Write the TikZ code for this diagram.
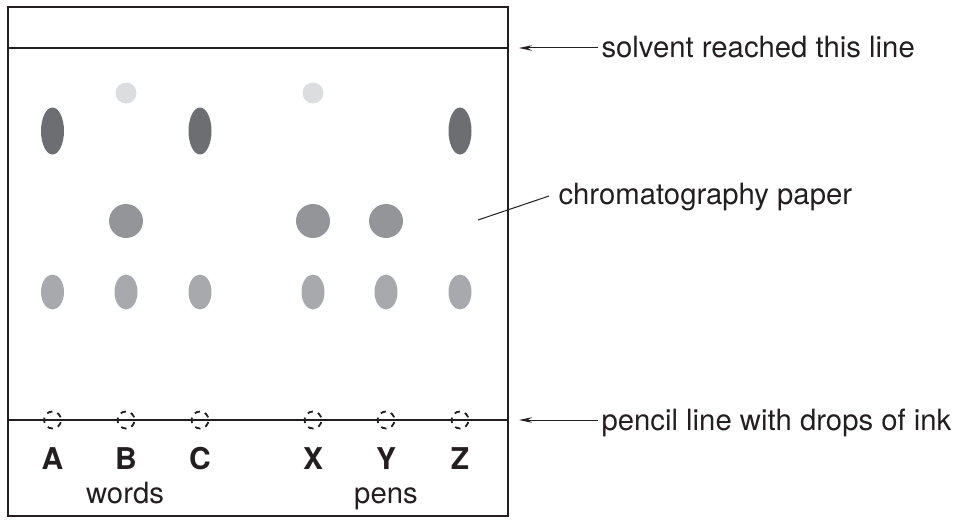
\documentclass[tikz,border=0pt]{standalone}
\usepackage{fontspec}
\setmainfont{TeX Gyre Heros}
\usetikzlibrary{positioning,arrows.meta,shapes.geometric}

\definecolor{inkline}{HTML}{231F20}
\definecolor{spotdark}{HTML}{6D6E71}
\definecolor{spotmid}{HTML}{939598}
\definecolor{spotpale}{HTML}{A7A9AC}
\definecolor{spotfaint}{HTML}{DCDDDF}

\begin{document}
\begin{tikzpicture}[
  x=1pt, y=-1pt,
  every node/.style={font=\fontsize{29.3}{34}\selectfont, text=inkline},
  longspot/.style={ellipse, fill=spotdark, inner sep=0pt, minimum width=23pt, minimum height=47pt},
  bigspot/.style={circle, fill=spotmid, inner sep=0pt, minimum size=34pt},
  lowspot/.style={ellipse, fill=spotpale, inner sep=0pt, minimum width=23pt, minimum height=35pt},
  topspot/.style={circle, fill=spotfaint, inner sep=0pt, minimum size=21pt},
  drop/.style={circle, draw=inkline, line width=1.8pt, dash pattern=on 5.5pt off 5.2pt, dash phase=8pt, inner sep=0pt, minimum size=17pt},
  letter/.style={anchor=base, font=\fontsize{30}{34}\selectfont\bfseries},
  note/.style={anchor=base west},
  arr/.style={-{Stealth[length=13pt, width=5.5pt]}, line width=1pt, draw=inkline}
]
\useasboundingbox (0,0) rectangle (957,519);

% Paper, solvent front and pencil line
\draw[inkline, line width=2.2pt] (8,7) rectangle (508,516);
\draw[inkline, line width=2.2pt] (8,48) -- (508,48);
\draw[inkline, line width=2.2pt] (8,420) -- (508,420);

% Faint spots near the top
\node[topspot] (b1) at (126,93) {};
\node[topspot] (x1) at (313,93) {};

% Dark long spots
\node[longspot] (a1) at (52.5,131) {};
\node[longspot] (c1) at (200,131) {};
\node[longspot] (z1) at (460,131) {};

% Round middle spots
\node[bigspot] (b2) at (126,221) {};
\node[bigspot] (x2) at (313,221) {};
\node[bigspot] (y2) at (386,221) {};

% Pale low spots
\node[lowspot] (a2) at (52.5,292) {};
\node[lowspot] (b3) at (126,292) {};
\node[lowspot] (c2) at (200,292) {};
\node[lowspot] (x3) at (313,292) {};
\node[lowspot] (y3) at (386,292) {};
\node[lowspot] (z2) at (460,292) {};

% Drops of ink on the pencil line
\node[drop] (da) at (52.5,420) {};
\node[drop] (db) at (126,420) {};
\node[drop] (dc) at (200,420) {};
\node[drop] (dx) at (313,420) {};
\node[drop] (dy) at (386,420) {};
\node[drop] (dz) at (460,420) {};

% Sample letters and groups
\node[letter] (la) at (52.5,469) {A};
\node[letter] (lb) at (126,469) {B};
\node[letter] (lc) at (200,469) {C};
\node[letter] (lx) at (313,469) {X};
\node[letter] (ly) at (386,469) {Y};
\node[letter] (lz) at (460,469) {Z};
\node[anchor=base] (words) at (125,503) {words};
\node[anchor=base] (pens) at (386,503) {pens};

% Notes on the right
\node[note] (solvent) at (598,58) {solvent reached this line};
\node[note] (paper) at (555,204) {chromatography paper};
\node[note] (pencil) at (598,430) {pencil line with drops of ink};
\coordinate (solventend) at (519,48);
\coordinate (pencilend) at (519,420);
\coordinate (paperend) at (478,220);

\draw[arr] (solvent.west |- solventend) -- (solventend);
\draw[arr] (pencil.west |- pencilend) -- (pencilend);
\draw[inkline, line width=1pt] (549,196) -- (paperend);
\end{tikzpicture}
\end{document}
